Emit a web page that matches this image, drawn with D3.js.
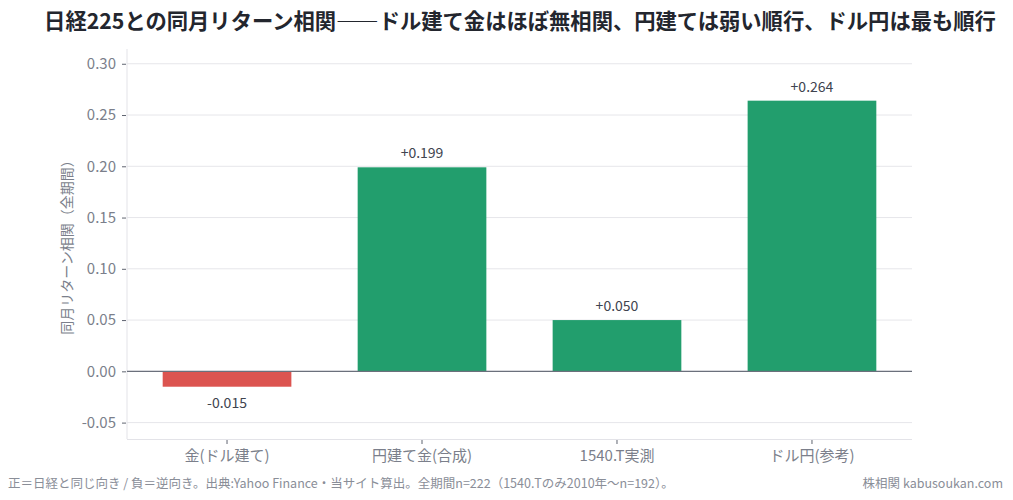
<!DOCTYPE html>
<meta charset="utf-8">
<script src="https://cdn.jsdelivr.net/npm/d3@7"></script>
<style>
  body { margin: 0; background: #fff; }
  text { font-family: "Noto Sans CJK JP", "Noto Sans", sans-serif; }
  .grid line { stroke: #e6e6ea; stroke-width: 1px; }
  .axis text { fill: #7b7f8b; font-size: 15px; }
  .axis line, .axis path { stroke: #5f6470; }
</style>
<body>
<div id="chart"></div>
<script>
// data
var categories = ["金(ドル建て)", "円建て金(合成)", "1540.T実測", "ドル円(参考)"];
var corr = [-0.015, 0.199, 0.050, 0.264];
var yTicks = [-0.05, 0, 0.05, 0.10, 0.15, 0.20, 0.25, 0.30];

var width = 1013, height = 500;
var margin = {top: 49, right: 101, bottom: 61, left: 127};

var svg = d3.select("#chart").append("svg")
    .attr("width", width)
    .attr("height", height);

var x = d3.scaleBand()
    .domain(categories)
    .range([margin.left, width - margin.right])
    .paddingInner(0.34)
    .paddingOuter(0.183);

var y = d3.scaleLinear()
    .domain([-0.066, 0.3144])
    .range([height - margin.bottom, margin.top]);

// grid
svg.append("g").attr("class", "grid")
    .selectAll("line")
    .data(yTicks)
    .enter().append("line")
    .attr("x1", margin.left).attr("x2", width - margin.right)
    .attr("y1", d => y(d)).attr("y2", d => y(d));

// spines
svg.append("line")
    .attr("x1", margin.left).attr("x2", margin.left)
    .attr("y1", margin.top).attr("y2", height - margin.bottom)
    .attr("stroke", "#e3e3e8");
svg.append("line")
    .attr("x1", margin.left).attr("x2", width - margin.right)
    .attr("y1", height - margin.bottom + 0.5).attr("y2", height - margin.bottom + 0.5)
    .attr("stroke", "#e3e3e8");

// bars
svg.append("g")
    .selectAll("rect")
    .data(corr)
    .enter().append("rect")
    .attr("x", (d, i) => x(categories[i]))
    .attr("width", x.bandwidth())
    .attr("y", d => y(Math.max(0, d)))
    .attr("height", d => Math.abs(y(d) - y(0)))
    .attr("fill", d => d < 0 ? "#dc5450" : "#229e6d");

// zero line
svg.append("line")
    .attr("x1", margin.left).attr("x2", width - margin.right)
    .attr("y1", y(0)).attr("y2", y(0))
    .attr("stroke", "#6b707c").attr("stroke-width", 1.2);

// value labels
svg.append("g")
    .selectAll("text")
    .data(corr)
    .enter().append("text")
    .attr("x", (d, i) => x(categories[i]) + x.bandwidth() / 2)
    .attr("y", d => d < 0 ? y(d) + 21 : y(d) - 9)
    .attr("text-anchor", "middle")
    .attr("font-size", "14px")
    .attr("fill", "#40444f")
    .text(d => (d > 0 ? "+" : "") + d.toFixed(3));

// y axis
var yAxis = svg.append("g").attr("class", "axis")
    .attr("transform", "translate(" + (margin.left - 1) + ",0)")
    .call(d3.axisLeft(y).tickValues(yTicks).tickFormat(d3.format(".2f")).tickSize(4).tickPadding(6));
yAxis.select(".domain").remove();
yAxis.selectAll("text").text(d => d3.format(".2f")(d).replace("−", "-"));

// x axis
var xAxis = svg.append("g").attr("class", "axis")
    .attr("transform", "translate(0," + (height - margin.bottom + 1) + ")")
    .call(d3.axisBottom(x).tickSize(4).tickPadding(6));
xAxis.select(".domain").remove();

// y label
svg.append("text")
    .attr("transform", "translate(72," + ((margin.top + height - margin.bottom) / 2) + ") rotate(-90)")
    .attr("text-anchor", "middle")
    .attr("font-size", "14px")
    .attr("fill", "#7b7f8b")
    .text("同月リターン相関（全期間）");

// title
svg.append("text")
    .attr("x", 520).attr("y", 29)
    .attr("text-anchor", "middle")
    .attr("font-size", "21.3px")
    .attr("font-weight", "bold")
    .attr("fill", "#23262e")
    .text("日経225との同月リターン相関――ドル建て金はほぼ無相関、円建ては弱い順行、ドル円は最も順行");

// footnotes
svg.append("text")
    .attr("x", 8).attr("y", 488)
    .attr("font-size", "12.5px")
    .attr("fill", "#8a8e98")
    .text("正＝日経と同じ向き / 負＝逆向き。出典:Yahoo Finance・当サイト算出。全期間n=222（1540.Tのみ2010年〜n=192）。");
svg.append("text")
    .attr("x", 1003).attr("y", 488)
    .attr("text-anchor", "end")
    .attr("font-size", "12.5px")
    .attr("fill", "#8a8e98")
    .text("株相関 kabusoukan.com");
</script>
</body>
